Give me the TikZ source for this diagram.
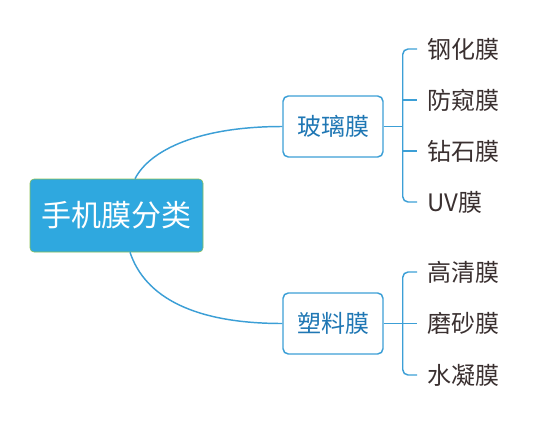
\documentclass[tikz,border=0pt]{standalone}
\usepackage{fontspec}
\setmainfont{Noto Sans CJK SC}
\usepackage{tikz}
\definecolor{rootblue}{HTML}{2FA8DF}
\definecolor{rootedge}{HTML}{8CC152}
\definecolor{linkblue}{HTML}{3C9FD6}
\definecolor{boxtext}{HTML}{1F77B4}
\definecolor{leaftext}{HTML}{3A3030}
\tikzstyle{root} =
[rectangle, rounded corners=3pt, minimum width = 129.75pt, minimum height = 54.75pt,
text centered, draw=rootedge, fill=rootblue, text=white,
font=\fontsize{22.5}{27}\selectfont]
\tikzstyle{film} =
[rectangle, rounded corners=4pt, minimum width = 75pt, minimum height = 45.75pt,
text centered, draw=linkblue, line width=1.1pt, fill=white, text=boxtext,
font=\fontsize{18}{22}\selectfont]
\tikzstyle{leaf} =
[rectangle, anchor=west, inner sep=7.5pt, text=leaftext,
font=\fontsize{18}{22}\selectfont]
\tikzstyle{line} = [draw=linkblue, line width=1.1pt]
\tikzstyle{bracket} = [line, rounded corners=4pt]
\begin{document}
\begin{tikzpicture}[x=0.75pt, y=-0.75pt]
  \useasboundingbox (0,0) rectangle (537,426);
  % 1st level nodes
  \node [root] (phone) at (116.5,215.5) {手机膜分类};
  % 2nd level nodes
  \node [film] (glass) at (333,126.5) {玻璃膜};
  \node [film] (plastic) at (333,323.5) {塑料膜};
  % 1st level edges
  \coordinate (ptop) at ([shift={(18.5,0)}]phone.north);
  \coordinate (pbot) at ([shift={(13.5,0)}]phone.south);
  \path [line] (ptop) .. controls +(15,-29) and +(-83,0) .. (glass.west);
  \path [line] (pbot) .. controls +(15,45) and +(-88,0) .. (plastic.west);
  %
  % 3rd level nodes
  \node [leaf] (gang) at (417,49) {钢化膜};
  \node [leaf] (fangkui) at (417,100) {防窥膜};
  \node [leaf] (zuanshi) at (417,151) {钻石膜};
  \node [leaf] (uv) at (417,202) {UV膜};
  \node [leaf] (gaoqing) at (417,272) {高清膜};
  \node [leaf] (mosha) at (417,323.5) {磨砂膜};
  \node [leaf] (shuining) at (417,375) {水凝膜};
  % 2nd level edges
  \coordinate (gj) at ([xshift=14.25pt]glass.east);
  \coordinate (pj) at ([xshift=14.25pt]plastic.east);
  \path [line] (glass.east) -- (gj);
  \path [bracket] (gj) |- (gang.west);
  \path [bracket] (gj) |- (uv.west);
  \path [line] (fangkui.west -| gj) -- (fangkui.west);
  \path [line] (zuanshi.west -| gj) -- (zuanshi.west);
  \path [line] (plastic.east) -- (pj);
  \path [bracket] (pj) |- (gaoqing.west);
  \path [bracket] (pj) |- (shuining.west);
  \path [line] (pj) -- (mosha.west);
\end{tikzpicture}
\end{document}
